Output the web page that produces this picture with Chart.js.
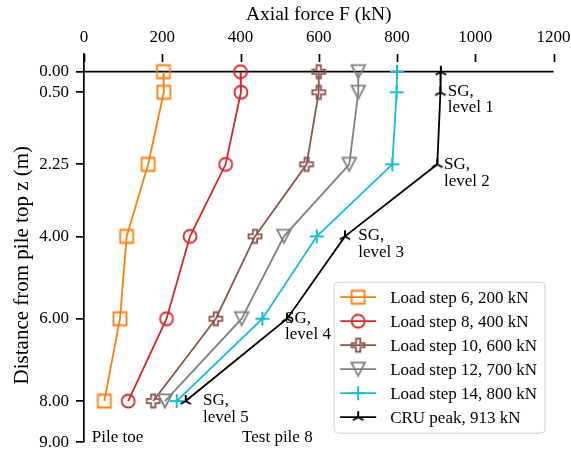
<!DOCTYPE html>
<html><head><meta charset="utf-8">
<script src="https://cdn.jsdelivr.net/npm/chart.js@4"></script>
<style>html,body{margin:0;padding:0;background:#fff;}</style>
</head><body>
<canvas id="c" width="571" height="451"></canvas>
<script>
// ---- data ----
const depths = [0, 0.5, 2.25, 4, 6, 8];
const step6  = [203, 204, 164, 109, 92, 52];
const step8  = [400, 401, 362, 271, 211, 113];
const step10 = [600, 600, 569, 437, 337, 177];
const step12 = [701, 701, 678, 511, 403, 207];
const step14 = [800, 799, 788, 595, 456, 237];
const cruPeak = [912, 911, 903, 667, 519, 260];
const forceTicks = [0, 200, 400, 600, 800, 1000, 1200];
const depthTicks = [0, 0.5, 2.25, 4, 6, 8, 9];
const seriesLabels = ['Load step 6, 200 kN', 'Load step 8, 400 kN', 'Load step 10, 600 kN',
                      'Load step 12, 700 kN', 'Load step 14, 800 kN', 'CRU peak, 913 kN'];
const noteTexts = [['SG,', 'level 1'], ['SG,', 'level 2'], ['SG,', 'level 3'], ['SG,', 'level 4'], ['SG,', 'level 5'], ['Pile toe'], ['Test pile 8']];

// ---- styling / placement (not data) ----
const series = [step6, step8, step10, step12, step14, cruPeak];
const colors = ['#ff7f0e', '#d62728', '#8c564b', '#7f7f7f', '#17becf', '#000000'];
const markerKinds = ['square', 'circle', 'plusFilled', 'triDown', 'plus', 'triUp'];
const notePos = [[930, 0.585], [920, 2.37], [701, 4.10], [514, 6.10], [304, 8.10], [20, 9.0], [404, 9.0]];
const SERIF = '"Liberation Serif", "Times New Roman", serif';

function makeMarker(kind, color) {
  const s = 22, m = 11;
  const c = document.createElement('canvas'); c.width = s; c.height = s;
  const g = c.getContext('2d');
  g.strokeStyle = color; g.lineWidth = 1.8; g.lineJoin = 'miter';
  g.beginPath();
  if (kind === 'square') {
    g.rect(m - 6.5, m - 6.5, 13, 13);
  } else if (kind === 'circle') {
    g.arc(m, m, 6.5, 0, Math.PI * 2);
  } else if (kind === 'plusFilled') {
    const a = 13 / 6;
    const pts = [[-1,-3],[1,-3],[1,-1],[3,-1],[3,1],[1,1],[1,3],[-1,3],[-1,1],[-3,1],[-3,-1],[-1,-1]];
    pts.forEach((p, i) => { const x = m + p[0] * a, y = m + p[1] * a; i ? g.lineTo(x, y) : g.moveTo(x, y); });
    g.closePath();
  } else if (kind === 'triDown') {
    g.moveTo(m - 6.8, m - 6.6); g.lineTo(m + 6.8, m - 6.6); g.lineTo(m, m + 6.6); g.closePath();
  } else if (kind === 'plus') {
    g.lineWidth = 2;
    g.moveTo(m - 7, m); g.lineTo(m + 7, m); g.moveTo(m, m - 7); g.lineTo(m, m + 7);
  } else if (kind === 'triUp') {
    g.lineWidth = 2;
    g.moveTo(m, m); g.lineTo(m, m - 6);
    g.moveTo(m, m); g.lineTo(m - 5.2, m + 3);
    g.moveTo(m, m); g.lineTo(m + 5.2, m + 3);
  }
  g.stroke();
  return c;
}
const markers = markerKinds.map((k, i) => makeMarker(k, colors[i]));

const overlay = {
  id: 'overlay',
  beforeDatasetsDraw(chart) {
    const {ctx, chartArea, scales: {x, y}} = chart;
    ctx.save();
    ctx.strokeStyle = '#000'; ctx.lineWidth = 1.7;
    const py = y.getPixelForValue(0);
    ctx.beginPath(); ctx.moveTo(chartArea.left, py); ctx.lineTo(x.getPixelForValue(1200), py); ctx.stroke();
    ctx.restore();
  },
  afterDraw(chart) {
    const {ctx, chartArea, scales: {x, y}} = chart;
    ctx.save();
    // x tick marks (inward)
    ctx.strokeStyle = '#000'; ctx.lineWidth = 1.7;
    x.ticks.forEach(t => {
      const px = Math.round(x.getPixelForValue(t.value)) + 0.5;
      ctx.beginPath(); ctx.moveTo(px, chartArea.top); ctx.lineTo(px, chartArea.top + 8); ctx.stroke();
    });
    // annotations
    ctx.fillStyle = '#000';
    ctx.font = '17px ' + SERIF;
    ctx.textAlign = 'left'; ctx.textBaseline = 'alphabetic';
    noteTexts.forEach((lines, i) => {
      const px = x.getPixelForValue(notePos[i][0]);
      const py = y.getPixelForValue(notePos[i][1]);
      lines.forEach((ln, k) => ctx.fillText(ln, px, py + k * 16.5));
    });
    // y title (rotated)
    ctx.save();
    ctx.font = '21px ' + SERIF;
    ctx.textAlign = 'center'; ctx.textBaseline = 'middle';
    ctx.translate(22, y.getPixelForValue(4.7));
    ctx.rotate(-Math.PI / 2);
    ctx.fillText('Distance from pile top z (m)', 0, 0);
    ctx.restore();
    // legend
    ctx.font = '17px ' + SERIF;
    const tw = Math.max(...chart.data.datasets.map(d => ctx.measureText(d.label).width));
    const bw = 6 + 36 + 14 + tw + 8, bh = 151;
    const bx = chartArea.right - 8.5 - bw, by = chartArea.bottom - 9 - bh;
    ctx.beginPath();
    if (ctx.roundRect) ctx.roundRect(bx, by, bw, bh, 4); else ctx.rect(bx, by, bw, bh);
    ctx.fillStyle = 'rgba(255,255,255,0.85)'; ctx.fill();
    ctx.strokeStyle = '#d0d0d0'; ctx.lineWidth = 1; ctx.stroke();
    chart.data.datasets.forEach((d, i) => {
      const cy = by + 15 + i * 24;
      ctx.strokeStyle = d.borderColor; ctx.lineWidth = 1.8;
      ctx.beginPath(); ctx.moveTo(bx + 6, cy); ctx.lineTo(bx + 42, cy); ctx.stroke();
      const img = d.pointStyle;
      ctx.drawImage(img, bx + 24 - img.width / 2, cy - img.height / 2);
      ctx.fillStyle = '#000'; ctx.textBaseline = 'middle'; ctx.textAlign = 'left';
      ctx.fillText(d.label, bx + 56, cy + 1);
    });
    ctx.restore();
  }
};

new Chart(document.getElementById('c'), {
  type: 'scatter',
  data: {
    datasets: series.map((s, i) => ({
      label: seriesLabels[i],
      data: depths.map((d, j) => ({x: s[j], y: d})),
      showLine: true,
      borderColor: colors[i],
      backgroundColor: colors[i],
      borderWidth: 1.8,
      pointStyle: markers[i],
      pointRadius: 7,
      pointHoverRadius: 7,
      tension: 0,
      order: 6 - i,
      clip: false
    }))
  },
  options: {
    responsive: false,
    animation: false,
    events: [],
    layout: {padding: {left: 0, right: 17.5, top: 0, bottom: 6}},
    plugins: {legend: {display: false}, tooltip: {enabled: false}, title: {display: false}},
    scales: {
      x: {
        type: 'linear', position: 'top', min: 0, max: 1200,
        afterBuildTicks: s => { s.ticks = forceTicks.map(v => ({value: v})); },
        ticks: {font: {family: SERIF, size: 17}, color: '#000', padding: 6, maxRotation: 0, autoSkip: false,
                callback: v => String(v)},
        grid: {display: false, drawTicks: false},
        border: {display: false},
        title: {display: true, text: 'Axial force F (kN)', color: '#000',
                font: {family: SERIF, size: 19.5}, padding: {top: 3, bottom: 0}},
        afterFit: s => { s.height = 54; s.paddingLeft = 0; s.paddingRight = 0; }
      },
      y: {
        type: 'linear', reverse: true, min: -0.43, max: 9,
        afterBuildTicks: s => { s.ticks = depthTicks.map(v => ({value: v})); },
        ticks: {font: {family: SERIF, size: 17}, color: '#000', padding: 7, autoSkip: false,
                callback: v => Number(v).toFixed(2)},
        grid: {display: true, drawOnChartArea: false, drawTicks: true, tickLength: 8, color: '#000', lineWidth: 1.7},
        border: {display: true, color: '#000', width: 1.7},
        title: {display: false},
        afterFit: s => { s.width = 84; s.paddingTop = 0; s.paddingBottom = 0; }
      }
    }
  },
  plugins: [overlay]
});
</script>
</body></html>
